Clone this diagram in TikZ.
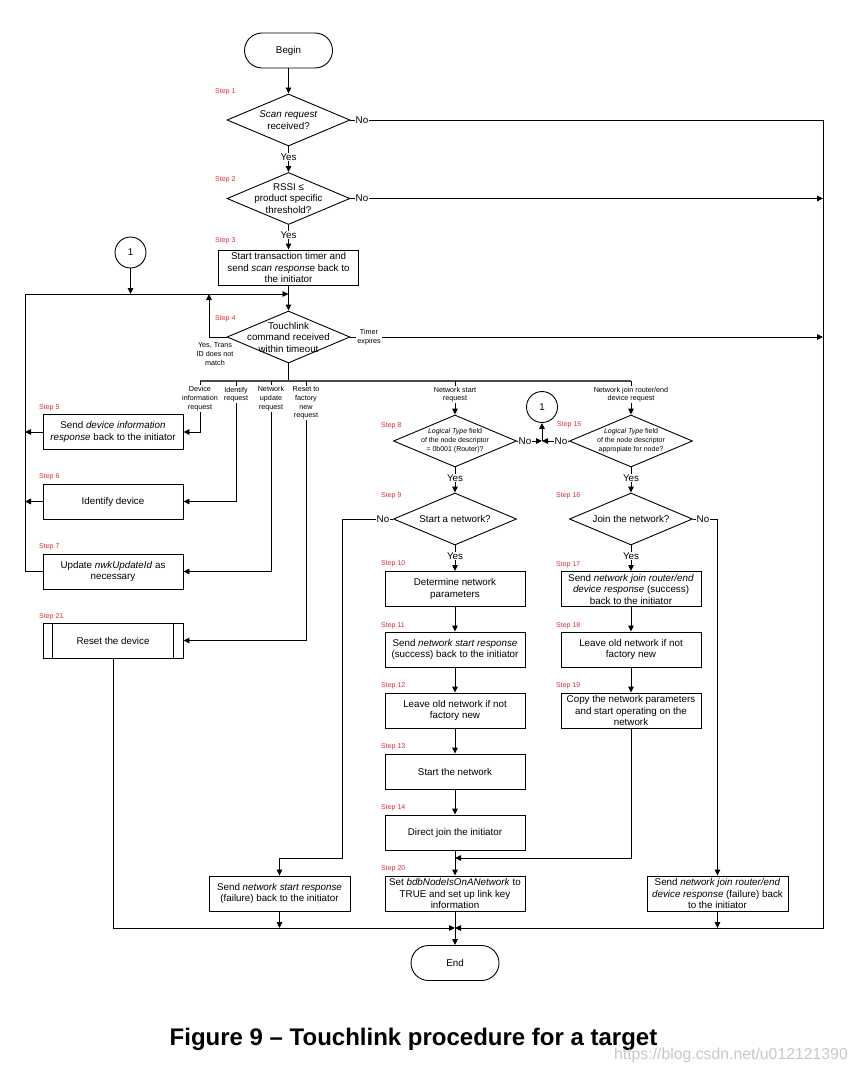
\documentclass[tikz,border=0pt]{standalone}
\usepackage{fontspec}
\setmainfont{Liberation Sans}
\usetikzlibrary{arrows.meta,shapes.geometric}
\definecolor{stepred}{RGB}{215,45,55}
\newcommand\mainf{\fontsize{9.8}{11.5}\selectfont}
\newcommand\smallf{\fontsize{7}{9}\selectfont}
\newcommand\lblf{\fontsize{7.2}{8.7}\selectfont}
\newcommand\stepf{\fontsize{7}{8}\selectfont}
\newcommand\titlef{\fontsize{24}{28}\selectfont\bfseries}
\newcommand\wmf{\fontsize{15.8}{18}\selectfont}
\begin{document}
\begin{tikzpicture}[x=1pt,y=-1pt,
  every node/.style={inner sep=0pt},
  ln/.style={line width=0.9pt},
  arr/.style={ln,-{Triangle[length=6pt,width=5.5pt]}},
  busline/.style={line width=1.3pt,black!70},
  box/.style={draw,line width=0.9pt,rectangle,minimum width=140pt,minimum height=35pt,align=center,font=\mainf},
  term/.style={draw,line width=0.9pt,rectangle,rounded corners=17.5pt,minimum width=88pt,minimum height=35pt,font=\mainf},
  dec/.style={draw,line width=0.9pt,diamond,minimum width=123pt,minimum height=52pt},
  dtext/.style={align=center,font=\mainf},
  stxt/.style={align=center,font=\smallf},
  stepl/.style={anchor=west,text=stepred,font=\stepf},
  yn/.style={fill=white,inner sep=1pt,font=\mainf},
  lbl/.style={fill=white,inner sep=1pt,align=center,font=\lblf},
  conn/.style={draw,line width=0.9pt,circle,minimum size=31pt,font=\mainf},
]
\useasboundingbox (0,0) rectangle (858,1070);

% ---- main column
\node[term] (begin) at (288.5,50.5) {Begin};
\node[dec] (d1) at (288.5,120) {};
\node[dtext] at (d1) {\textit{Scan request}\\received?};
\node[dec] (d2) at (288.5,198.5) {};
\node[dtext] at (d2) {RSSI ≤\\product specific\\threshold?};
\node[box] (b3) at (288.5,267.5) {Start transaction timer and\\send \textit{scan response} back to\\the initiator};
\node[dec] (d4) at (288.5,337) {};
\node[dtext] at (d4) {Touchlink\\command received\\within timeout};
\node[conn] (c1) at (130.5,252.5) {1};

% ---- coordinates
\coordinate (rt) at (823,120);
\coordinate (rb) at (823,928);
\coordinate (lt) at (25,294);
\coordinate (lb) at (25,571.5);
\coordinate (m4) at (288.5,294);
\coordinate (ylp) at (209,294);
\coordinate (bl) at (113,928);
\coordinate (bm) at (455,928);
\coordinate (bus) at (288.5,381);
\coordinate (t1) at (200,381);
\coordinate (t2) at (236,381);
\coordinate (t3) at (271,381);
\coordinate (t4) at (306,381);
\coordinate (t5) at (455,381);
\coordinate (t6) at (631,381);
\coordinate (j) at (542,441);
\coordinate (mid) at (455,858);
\coordinate (k1) at (342,858);

% ---- left column
\node[box] (b5) at (113,432) {Send \textit{device information}\\\textit{response} back to the initiator};
\node[box] (b6) at (113,501.5) {Identify device};
\node[box] (b7) at (113,571.5) {Update \textit{nwkUpdateId} as\\necessary};
\node[box] (b21) at (113,640.5) {Reset the device};
\draw[ln] ([xshift=10pt]b21.north west) -- ([xshift=10pt]b21.south west);
\draw[ln] ([xshift=-10pt]b21.north east) -- ([xshift=-10pt]b21.south east);

% ---- middle column
\node[dec] (d8) at (455,441) {};
\node[stxt] at (d8) {\textit{Logical Type} field\\of the node descriptor\\= 0b001 (Router)?};
\node[dec] (d9) at (455,519) {};
\node[dtext] at (d9) {Start a network?};
\node[box] (b10) at (455,589) {Determine network\\parameters};
\node[box] (b11) at (455,649.5) {Send \textit{network start response}\\(success) back to the initiator};
\node[box] (b12) at (455,710.5) {Leave old network if not\\factory new};
\node[box] (b13) at (455,771.5) {Start the network};
\node[box] (b14) at (455,832.5) {Direct join the initiator};
\node[box] (b20) at (455,893.5) {Set \textit{bdbNodeIsOnANetwork} to\\TRUE and set up link key\\information};
\node[term] (fin) at (455,963) {End};
\node[box,minimum width=141pt] (bf1) at (279.5,893.5) {Send \textit{network start response}\\(failure) back to the initiator};
\node[box,minimum width=141pt] (bf2) at (717.5,893.5) {Send \textit{network join router/end}\\\textit{device response} (failure) back\\to the initiator};

% ---- right column
\node[dec] (d15) at (631,441) {};
\node[stxt] at (d15) {\textit{Logical Type} field\\of the node descriptor\\appropiate for node?};
\node[conn] (c2) at (542,407) {1};
\node[dec] (d16) at (631,519) {};
\node[dtext] at (d16) {Join the network?};
\node[box] (b17) at (631,589) {Send \textit{network join router/end}\\\textit{device response} (success)\\back to the initiator};
\node[box] (b18) at (631,649.5) {Leave old network if not\\factory new};
\node[box] (b19) at (631,710.5) {Copy the network parameters\\and start operating on the\\network};

% ---- connectors: top
\draw[arr] (begin.south) -- (d1.north);
\draw[arr] (d1.south) -- (d2.north);
\node[yn] at (288.5,157) {Yes};
\draw[arr] (d2.south) -- (b3.north);
\node[yn] at (288.5,235) {Yes};
\draw[arr] (b3.south) -- (d4.north);
\draw[arr] (d1.east) -- (rt) -- (rb) -- (bm);
\node[yn] at (362,120) {No};
\draw[arr] (d2.east) -- (d2.east -| rt);
\node[yn] at (362,198.5) {No};
\draw[arr] (d4.east) -- (d4.east -| rt);
\node[lbl] at (369,337) {Timer\\expires};
\draw[arr] (c1.south) -- (c1.south |- lt);
\draw[arr] (b7.west) -- (lb) -- (lt) -- (m4);
\draw[arr] (b5.west) -- (b5.west -| lt);
\draw[arr] (b6.west) -- (b6.west -| lt);
\draw[arr] (d4.west) -| (ylp);
\node[lbl,fill=none] at (215,354) {Yes, Trans\\ID does not\\match};

% ---- branch bus
\draw[ln] (d4.south) -- (bus);
\draw[busline] (t1) -- (t6);
\draw[arr] (t1) |- (b5.east);
\node[lbl] at (200,398.5) {Device\\information\\request};
\draw[arr] (t2) |- (b6.east);
\node[lbl] at (236,394.5) {Identify\\request};
\draw[arr] (t3) |- (b7.east);
\node[lbl] at (271,398.5) {Network\\update\\request};
\draw[arr] (t4) |- (b21.east);
\node[lbl] at (306,403) {Reset to\\factory\\new\\request};
\draw[arr] (t5) -- (d8.north);
\node[lbl] at (455,394.5) {Network start\\request};
\draw[arr] (t6) -- (d15.north);
\node[lbl] at (631,394.5) {Network join router/end\\device request};

% ---- middle connectors
\draw[arr] (d8.east) -- (j);
\node[yn] at (525,441) {No};
\draw[arr] (d15.west) -- (j);
\node[yn] at (561,441) {No};
\draw[arr] (j) -- (c2.south);
\draw[arr] (d8.south) -- (d9.north);
\node[yn] at (455,478) {Yes};
\draw[arr] (d9.west) -| (k1) -| (bf1.north);
\node[yn] at (383,519) {No};
\draw[arr] (d9.south) -- (b10.north);
\node[yn] at (455,556) {Yes};
\draw[arr] (b10.south) -- (b11.north);
\draw[arr] (b11.south) -- (b12.north);
\draw[arr] (b12.south) -- (b13.north);
\draw[arr] (b13.south) -- (b14.north);
\draw[arr] (b14.south) -- (b20.north);
\draw[arr] (b19.south) |- (mid);
\draw[arr] (b20.south) -- (fin.north);

% ---- right connectors
\draw[arr] (d15.south) -- (d16.north);
\node[yn] at (631,478) {Yes};
\draw[arr] (d16.east) -| (bf2.north);
\node[yn] at (703,519) {No};
\draw[arr] (d16.south) -- (b17.north);
\node[yn] at (631,556) {Yes};
\draw[arr] (b17.south) -- (b18.north);
\draw[arr] (b18.south) -- (b19.north);

% ---- bottom bus
\draw[arr] (bf1.south) -- (bf1.south |- bm);
\draw[arr] (bf2.south) -- (bf2.south |- bm);
\draw[arr] (b21.south) -- (bl) -- (bm);

% ---- step labels
\node[stepl] at (215,92) {Step 1};
\node[stepl] at (215,179.5) {Step 2};
\node[stepl] at (215,241) {Step 3};
\node[stepl] at (215,319) {Step 4};
\node[stepl] at (39,408) {Step 5};
\node[stepl] at (39,477) {Step 6};
\node[stepl] at (39,547) {Step 7};
\node[stepl] at (39,617) {Step 21};
\node[stepl] at (381,426) {Step 8};
\node[stepl] at (381,496) {Step 9};
\node[stepl] at (381,564) {Step 10};
\node[stepl] at (381,626) {Step 11};
\node[stepl] at (381,686) {Step 12};
\node[stepl] at (381,747) {Step 13};
\node[stepl] at (381,808) {Step 14};
\node[stepl] at (381,869) {Step 20};
\node[stepl] at (557,425) {Step 15};
\node[stepl] at (556,496) {Step 16};
\node[stepl] at (556,565) {Step 17};
\node[stepl] at (556,626) {Step 18};
\node[stepl] at (556,686) {Step 19};

% ---- title and watermark
\node[font=\titlef,anchor=base] (title) at (413.5,1045) {Figure 9 – Touchlink procedure for a target};
\node[font=\wmf,text=black!22,anchor=base east] (wm) at (848,1059) {https://blog.csdn.net/u012121390};
\end{tikzpicture}
\end{document}
